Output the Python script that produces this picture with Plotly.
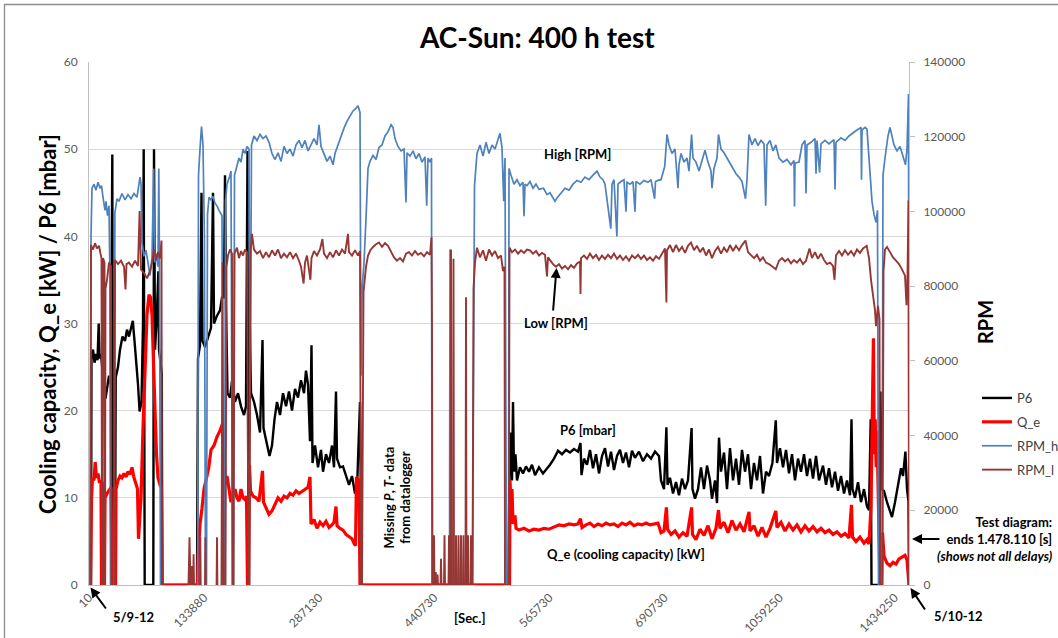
import plotly.graph_objects as go

# ---------------- data (x = sample index along the category axis) ----------------
tick_pos = [0, 115.1, 230.2, 345.3, 460.4, 575.5, 690.6, 805.7]
tick_labels = ["10", "133880", "287130", "440730", "565730", "690730", "1059250", "1434250"]

# P6 [mbar]
p6_pts = [
    (0, 0), (2, 0), (2.5, 26.5), (4, 27), (5.5, 25.5), (7, 26.5), (8.5, 25.8), (9.7, 30), (10.5, 26), (12, 26.5),
    (14, 24), (16.5, 21.4), (18, 22.5), (20, 24), (22, 23), (23.3, 49.4), (24, 0), (26, 0), (26.7, 23.8), (29, 25),
    (31, 27), (33.5, 28.5), (36, 28), (38, 29.3), (40, 28.5), (42, 29.5), (43.8, 30.3), (45.5, 28), (47, 26), (49, 23),
    (50.6, 19.9), (52.5, 21), (54, 30), (54.7, 50), (55.7, 0), (64.3, 0), (65, 50), (66, 27), (67.5, 30), (69.4, 36),
    (70, 27), (71.5, 25), (72.8, 24.2), (73.3, 0),
    (108, 0), (109, 26), (111, 27.5), (112.5, 45), (113.5, 28), (116, 27.3), (119, 28.5), (122, 29.5), (124, 45),
    (125, 30), (128, 30.9), (131, 31.5), (133, 33), (135, 33), (136, 47), (137, 32), (138.5, 22), (141, 21.5),
    (143, 23.4), (146, 21), (149, 22), (152, 20.5), (155, 19.5), (157, 20.5), (158.5, 49.8), (159.5, 0), (160.5, 31.7),
    (162, 22), (165, 21), (168, 19.5), (171, 17.5), (173.5, 28.1), (174.5, 18), (177, 16.5), (180.5, 14.8), (183, 16),
    (185.5, 19), (188, 21), (191, 19.5), (194, 22), (197, 20.5), (200, 22.2), (203, 20), (206, 22.5), (209, 21.5),
    (212, 23.5), (215, 22), (217, 24.6), (219, 23), (221, 16.5), (222.5, 27.5), (223.5, 14), (226, 16), (229, 13.5),
    (232, 15.5), (234, 13), (237, 15), (240, 14), (243, 16), (245, 13.5), (247, 22.2), (248, 14.5), (251, 13.5),
    (254, 13.6), (257, 12.5), (260, 11.5), (263, 12.5), (266, 10.5), (268, 11), (271, 21), (272, 9.6), (272.5, 0),
    (418, 0), (419.5, 0), (420.5, 14), (422, 17.5), (423, 12), (424, 21), (425, 13), (426.5, 15), (428, 12), (431, 13.5),
    (434, 12.8), (437, 13.6), (440, 13), (443, 13.8), (446, 12.6), (450, 13.5), (454, 12.8), (458, 13.3), (461, 13.8),
    (465, 14.5), (469, 15.4), (473, 15), (477, 15.5), (481, 15.2), (485, 15.6), (489, 15.3), (491.5, 16.3), (492.5, 12.6),
    (495, 14.5), (498, 13.8), (501, 15.5), (504, 13.4), (507, 15), (510, 12.8), (513, 14.8), (516, 15.7), (519, 13.6),
    (522, 15.3), (525, 13.2), (528, 14.8), (531, 15.5), (534, 14), (537, 15.2), (540, 13.5), (543, 15.4), (546, 14.6),
    (550, 15.3), (554, 14.2), (558, 15), (562, 14.5), (566, 15.3), (570, 14.8), (572, 12), (575, 11), (577.4, 18.1),
    (578.5, 11.5), (581, 12.3), (584, 10.5), (587, 11.8), (590, 10.3), (593, 12.2), (596, 11), (599, 12), (602.6, 18),
    (603.5, 11), (606, 9.9), (609, 11), (612, 13.5), (615, 11), (618, 13.7), (621, 12), (623, 9.9), (626, 12), (628, 9.4),
    (630, 16.9), (632, 13), (635, 15.2), (638, 11), (641, 15.7), (644, 12), (647, 14.5), (650, 11.5), (653, 15.5),
    (656, 13), (659, 15), (662, 11), (665, 14), (668, 12), (671, 14.8), (674, 10.5), (677, 13), (680, 12.5), (683.4, 14),
    (686.8, 18.9), (688, 14), (691, 15.7), (694, 13.5), (697, 15.5), (700, 12.8), (703, 15), (706, 12), (709, 14.5),
    (712, 13), (715, 15), (718, 12.5), (721, 14.5), (724, 12.2), (727, 14.8), (730, 12), (734, 13.7), (737, 11.5),
    (740, 13.4), (743, 11.2), (746, 13), (749, 10.8), (752, 12.5), (755, 10.5), (758, 12), (761, 10.3), (762.5, 19),
    (763.5, 11), (766, 10), (769, 11.8), (772, 9.5), (775, 11), (778, 9), (780, 8.6), (781.7, 19), (782.5, 0),
    (790.5, 0), (791.5, 22.2), (792.5, 11), (795, 10.8), (798, 9.5), (801, 8.5), (803, 7.8), (806, 9.5), (809, 11.5),
    (812, 13.4), (814, 12.5), (816.4, 15.3), (818, 11), (819.5, 9.6), (820, 0),
]

# Q_e [kW]
qe_pts = [
    (0, 0), (1.5, 0), (2.5, 10), (3.5, 12.3), (5, 12), (6.2, 14.1), (7.5, 12.3), (9, 12.8), (10.5, 11.7), (12, 12),
    (12.5, 0), (13.5, 0), (14, 11.5), (15, 11.8), (15.5, 0), (16, 10), (18, 10.5), (20, 10.8), (22, 11.2), (23, 0),
    (26.5, 0), (27, 11), (29, 12), (31, 12.5), (33, 12.3), (35, 12.8), (37, 12.4), (39, 13), (41, 12.7), (43, 13.5),
    (45, 12.3), (47, 11.6), (48.5, 11), (49.5, 5.3), (50.5, 8), (52, 10), (54, 18), (56, 26), (58, 31), (60, 33.3),
    (61.5, 33), (63, 31), (64.5, 26.5), (66, 20), (67.5, 15), (69, 12.3), (71, 11.5), (72.5, 11.2), (73.2, 0),
    (107.5, 0), (108.5, 0), (109.5, 4), (111, 7), (113, 8.8), (115, 11), (117, 12), (119.8, 13.5), (122, 15.5),
    (125, 16), (128, 17), (131, 17.7), (133.5, 18.5), (135, 14), (136.5, 11.5), (138, 12.5), (140, 11), (142, 9.5),
    (144, 10.5), (146, 11), (148, 10), (150, 9.6), (152, 11), (154, 10), (156, 9.8), (157.5, 10.2), (158.5, 0),
    (159.5, 0), (160.5, 13.8), (161.5, 10.8), (164, 10.2), (167, 10), (170, 9.6), (173.5, 13.1), (174.5, 9.5),
    (177, 8.8), (180, 8.1), (183, 8.5), (186, 9.3), (189, 10), (192, 9.6), (195, 10.2), (198, 10), (201, 10.5),
    (204, 10.3), (207, 10.8), (210, 10.5), (213, 10.7), (216, 11), (219, 11.2), (221, 12.4), (222, 7), (225, 7.5),
    (228, 6.5), (231, 7.2), (234, 6.8), (237, 7.3), (240, 6.6), (243, 6.9), (245, 7.2), (247, 9), (248, 6.8),
    (251, 6.5), (254, 6.3), (257, 5.8), (260, 5.5), (263, 5.3), (265, 4.8), (266.5, 4.5), (267.5, 12.4), (270, 12),
    (271, 0),
    (420.5, 0), (421, 12), (422, 9), (423, 11), (424, 7), (426, 8), (427, 6.5), (430, 6.3), (435, 6.5), (440, 6.2),
    (445, 6.4), (450, 6.3), (455, 6.5), (460, 6.4), (465, 6.7), (470, 6.9), (475, 6.8), (480, 7.0), (485, 6.9),
    (489, 7.0), (491.5, 7.6), (493, 6.6), (497, 6.9), (501, 7.1), (505, 6.7), (509, 7), (513, 6.8), (517, 7.1),
    (521, 6.9), (525, 7.0), (529, 6.7), (533, 7.1), (537, 6.9), (541, 7.2), (545, 6.8), (549, 7.0), (553, 6.9),
    (557, 7.1), (561, 6.9), (565, 7.0), (569, 7.1), (572, 6.0), (575, 6.2), (577.4, 8.9), (578.5, 6.4), (582, 5.8),
    (586, 6.2), (590, 5.5), (594, 6), (598, 5.6), (602.6, 8.9), (603.5, 5.8), (607, 5.2), (611, 6.4), (615, 5.7),
    (619, 6.8), (623, 5.3), (627, 6.5), (629.5, 8.6), (631, 6.5), (635, 7.2), (639, 6), (643, 7.4), (647, 6.3),
    (651, 7.0), (655, 6.1), (660, 8.4), (661, 6.2), (665, 6.8), (669, 5.6), (673, 6.6), (677, 5.5), (681, 6.5),
    (686.8, 8.5), (688, 6.6), (692, 7.2), (696, 6.2), (700, 7.0), (704, 6.3), (708, 6.9), (712, 6.1), (716, 6.8),
    (720, 6.2), (724, 6.7), (728, 6.1), (732, 6.5), (736, 6.0), (740, 6.3), (744, 5.8), (748, 6.1), (752, 5.6),
    (756, 5.9), (760, 5.4), (762.5, 9.2), (763.5, 5.5), (767, 5.0), (771, 5.5), (775, 4.8), (778, 5.2), (780, 4.7),
    (782, 9), (784.4, 28.3), (785.3, 15), (786.2, 19), (787.2, 13.5), (788, 17.7), (789, 12), (790, 8), (791, 0),
    (792.5, 0), (793.5, 6), (795, 3.3), (798, 2.5), (801, 2.2), (804, 2.6), (807, 2.4), (810, 3.0), (813, 3.2),
    (816, 3.4), (818, 2.9), (819.5, 0), (820, 0),
]

# RPM_h [RPM]  (None = no record)
rpm_h_pts = [
    (1, 0), (2, 93300), (3, 106200), (5, 107300), (7, 105700), (9, 107800), (11, 106200), (12.5, 106900), (14, 103800),
    (16, 100300), (17, 102700), (18.5, 98900), (20, 101500), (20.8, 84500), (21.5, 0), (25, 0), (25.9, 99600),
    (28, 103400), (30, 102700), (33, 104800), (36, 103100), (39, 104500), (42, 103400), (45, 104800), (48, 103800),
    (49.5, 106200), (51, 109200), (52, 107300), (53, 91700), (55, 88000), (57, 89600), (59, 86300), (61, 82800),
    (63, 87500), (64.7, 111500), (65.5, 86300), (67, 88700), (69, 85200), (69.8, 111500), (70.5, 84000), (71.5, 0),
    (72, None),
    (108.6, 0), (109.5, 109700), (111, 116700), (112.5, 122700), (114, 117800), (115.4, 93300), (116.5, 0), (117.5, 0),
    (118.5, 99200), (120, 103800), (122, 103100), (124, 104100), (126, 102200), (128, 101500), (130, 100300),
    (132, 99200), (133, 98900), (134, 0), (135.5, 0), (136.5, 102700), (138, 107300), (140.7, 109400), (142, 110800),
    (143.5, 0), (144.5, 0), (145.5, 109700), (148, 112000), (150, 114300), (152, 113200), (154, 116700), (156, 115500),
    (158, 117400), (160, 116700), (161, 40800), (162.5, 117800), (165, 120200), (168, 119000), (171, 120600),
    (174, 119500), (177, 120200), (180, 118500), (183, 115500), (186, 113900), (189, 115700), (192, 113400),
    (195, 117400), (198, 115500), (201, 116700), (204, 114800), (207, 117800), (210, 119000), (213, 117100),
    (216, 119000), (219, 116200), (222, 117800), (225, 119500), (228, 117800), (230, 123200), (232, 117400),
    (235, 115300), (238, 113400), (241, 114800), (244, 112500), (246, 115500), (249, 117800), (252, 120200),
    (255, 122300), (258, 124100), (261, 125500), (264, 126900), (267, 127600), (269, 128300), (271, 126500),
    (272, 56000), (273, 78900), (275, 86300), (277, 98000), (279, 111500), (281, 113400), (284, 115000), (287, 113900),
    (290, 117100), (293, 117800), (296, 120200), (299, 121300), (302, 123200), (304, 122500), (306, 119500),
    (309, 117400), (312, 116200), (315, 116700), (317, 102400), (318, 115700), (321, 114800), (324, 116200),
    (327, 114100), (330, 115500), (333, 113200), (336, 114600), (337.7, 101500), (339, 114300), (341, 113200),
    (342.5, 114300), (343, 0), (343.5, None),
    (360.5, 0), (361, 89800), (361.5, 0), (362, None),
    (383.5, 0), (384.5, 77000), (385.5, 106900), (388, 115500), (391, 117800), (394, 114800), (397, 118500),
    (400, 115500), (403, 117800), (406, 116700), (409, 119500), (411, 120900), (413, 117100), (414.7, 102700),
    (416, 114300), (417.5, 0), (419.5, 0), (420, 111500), (422, 109700), (425, 107300), (428, 108500), (431, 106900),
    (434, 107800), (435, 98700), (436, 107300), (438, 106900), (441, 108000), (444, 106200), (447, 107300),
    (450, 105900), (454.5, 106200), (458, 104500), (461, 105000), (464, 103800), (466, 102700), (468, 103600),
    (472, 105000), (476, 106200), (480, 105700), (484, 107300), (488, 108300), (492, 107800), (496, 109200),
    (500, 108500), (504, 109700), (508, 110800), (511, 109200), (514, 108500), (516, 107300), (521.8, 95400),
    (523, 107300), (525, 108500), (527.9, 93300), (529, 107300), (532, 108000), (535, 108500), (537, 99900),
    (538, 107800), (541, 107300), (544, 108000), (546, 99900), (547, 108000), (551, 107300), (555, 108300),
    (559, 107800), (562, 108500), (565.6, 103400), (566.5, 108000), (569, 108300), (572, 108500), (575.7, 112000),
    (578, 120600), (580, 117800), (583, 115500), (586, 116700), (589, 106200), (590, 112500), (592, 115500),
    (595, 113200), (598, 114300), (600, 110800), (602.6, 120600), (604, 114300), (607, 113200), (610, 110800),
    (613, 113400), (616, 116400), (619, 113200), (622, 110800), (623, 106200), (625, 111500), (628, 114300),
    (629.5, 120600), (632, 116700), (635, 115700), (638, 114300), (641, 112900), (644, 111800), (647, 110100),
    (650, 109200), (653, 108000), (656.5, 103400), (658, 108500), (660, 120600), (663, 117800), (666, 119500),
    (669, 117600), (672, 119000), (675, 118100), (676.7, 101500), (678, 117800), (681, 119000), (684, 116200),
    (686.8, 117800), (690, 114300), (694, 113200), (698, 113900), (702, 112500), (705, 113600), (705.5, 101300),
    (706, 112900), (710, 113200), (713, 117800), (716, 119000), (717, 104800), (718, 117800), (722, 118500),
    (726, 119500), (727, 110100), (728, 119000), (730.6, 110400), (732, 118100), (736, 119000), (740, 118100),
    (745, 119200), (746, 105900), (747, 118500), (752, 119700), (756, 119000), (760, 120200), (764, 121100),
    (768, 121800), (772, 122500), (772.5, 108500), (773, 121800), (776, 122500), (778, 122000), (781, 109700),
    (783, 102700), (785, 99200), (787, 97100), (788.5, 100300), (789.5, 0), (793, 0), (794, 109700), (796, 114300),
    (799, 120200), (801, 122500), (803, 120200), (805, 117800), (808, 116200), (811, 117400), (814, 114800),
    (816.5, 112500), (818, 116700), (819.5, 131400), (820, 0),
]

# RPM_l [RPM]  (None = no record)
rpm_l_pts = [
    (1.5, 0), (2, 91000), (4, 89800), (6, 91500), (8, 90100), (10, 90800), (11.5, 88700), (12.5, 87500), (13, 0),
    (13.5, 0), (14, 87500), (15.5, 86300), (16, 0), (16.5, 79300), (18, 81700), (20, 86300), (22, 85400), (22.5, 0),
    (25.5, 0), (26, 87000), (29, 85900), (32, 86800), (35, 85200), (36.5, 79100), (37.5, 85900), (40, 86300),
    (43, 85200), (46, 86800), (49, 85400), (50.6, 100100), (52, 84500), (55, 83500), (58, 82100), (61, 84000),
    (63, 86300), (65, 89800), (67, 87000), (69, 89100), (71, 87500), (72.5, 92200), (73, 0), (73.5, None),
    (99.5, 0), (100.5, 12800), (101.5, 0), (102.5, 0), (103, 5100), (103.5, 0), (104.2, 0), (104.6, 8200), (105, 0),
    (105.5, None), (111, 0), (111.3, 12800), (111.7, 0), (112, None), (116, 0), (116.4, 12800), (116.8, 0), (117, None),
    (127.6, 0), (128, 12800), (128.4, 0), (128.8, None), (132.5, 0), (133.5, 86300), (134.5, 0), (136.5, 0),
    (137.5, 85200), (139, 88200), (141, 89800), (143, 88700), (143.5, 0), (144.5, 0), (145.5, 88700), (148, 90300),
    (150, 87500), (152, 89400), (154, 88200), (156, 89800), (158, 89100), (159.5, 0), (160.5, 0), (161.5, 88700),
    (163, 94000), (165, 89800), (168, 88700), (171, 89400), (174, 87500), (177, 89100), (180, 87700), (183, 89600),
    (186, 88200), (189, 89800), (192, 87500), (195, 88700), (198, 87700), (201, 89100), (204, 87500), (207, 88700),
    (210, 86800), (212, 85200), (214.6, 80700), (216, 86300), (218, 88200), (221.4, 81700), (222.5, 87500),
    (225, 89400), (228, 88200), (231, 89800), (233.4, 92600), (235, 88700), (238, 87500), (241, 89100), (244, 87700),
    (247, 89600), (250, 88200), (253, 89800), (256, 88700), (259, 94000), (260, 89100), (263, 88200), (266, 89600),
    (269, 88200), (271, 89400), (272, 0), (273, 0), (274.5, 78400), (277, 85200), (279, 88200), (281.4, 89600),
    (284, 90500), (287, 91200), (290, 91700), (293, 90500), (296, 91500), (299, 90800), (302, 89100), (305, 87700),
    (308, 86800), (311, 87500), (314, 86600), (317, 88700), (320, 89100), (323, 88200), (326, 89400), (329, 88400),
    (332, 88900), (335, 88000), (338, 89100), (341, 88400), (342.5, 93100), (343, 69300), (343.5, 0), (344, None),
    (344.5, 0), (345, 13300), (345.5, 0), (346, None), (346.3, 0), (346.8, 3500), (347.3, 0), (347.6, None),
    (348.2, 0), (348.6, 2800), (349, 0), (349.3, None), (351.5, 0), (352, 7000), (352.5, 0), (353, None),
    (355, 0), (355.5, 13300), (356, 0), (356.5, None), (359.5, 0), (360, 13300), (360.5, 0), (361, None),
    (361.5, 0), (362, 89800), (362.5, 0), (363, None), (364, 0), (364.5, 87300), (365, 0), (365.5, None),
    (366.5, 0), (367, 13300), (367.5, 0), (368, None), (369, 0), (369.5, 13300), (370, 0), (370.5, None),
    (371.5, 0), (372, 13300), (372.5, 0), (373, None), (374, 0), (374.5, 13300), (375, 0), (375.5, None),
    (376.5, 0), (377, 77000), (377.5, 0), (378, None), (378.5, 0), (379, 13300), (379.5, 0), (380, None),
    (381.5, 0), (382, 13300), (382.5, 0), (383, None),
    (383.5, 0), (384.5, 79300), (386, 86300), (388, 90300), (391, 87700), (394, 89600), (397, 86800), (400, 89800),
    (403, 88200), (406, 89400), (409, 87500), (412, 88200), (414, 84000), (415.5, 85200), (416, 0), (419.8, 0),
    (420.5, 90300), (423, 89100), (426, 89800), (429, 88700), (432, 89600), (435, 88900), (438, 89800), (441, 89600),
    (444, 88700), (447, 89400), (450, 88200), (453, 88900), (456, 88400), (458, 82600), (459, 87700), (461, 87000),
    (464, 85900), (467, 85200), (470, 85900), (473, 84700), (476, 85400), (479, 84500), (482, 85600), (485, 84900),
    (488, 86100), (491, 86600), (491.5, 77900), (492, 87500), (495, 88200), (498, 87300), (501, 88700), (504, 87500),
    (507, 88400), (510, 87000), (513, 88200), (516, 87300), (519, 88400), (522, 87500), (525, 88700), (528, 87300),
    (531, 88200), (534, 87000), (537, 88000), (540, 86800), (543, 88200), (546, 87500), (549, 88400), (552, 87300),
    (555, 88200), (558, 87000), (561, 87700), (564, 86800), (567, 88000), (570, 87300), (573, 88700), (576, 90100),
    (577.4, 75600), (578, 89600), (581, 91000), (584, 89100), (587, 91000), (590, 89400), (593, 90500), (596, 88900),
    (599, 90800), (602, 91700), (605, 89600), (608, 90800), (611, 89100), (614, 90300), (617, 88200), (620, 89800),
    (623, 87500), (626, 89400), (629, 90500), (632, 88700), (635, 90300), (638, 89100), (641, 91000), (644, 89400),
    (647, 90800), (650, 89600), (653, 91000), (656.5, 92200), (659, 89100), (662, 88200), (665, 87500), (668, 88400),
    (671, 86800), (674, 87700), (677, 86300), (680, 85900), (683, 85200), (686.8, 84500), (690, 86800), (693, 87500),
    (696, 86600), (699, 87300), (702, 86100), (705, 87000), (708, 86300), (711, 87300), (714, 85900), (717, 86800),
    (720.5, 90100), (723, 87500), (726, 89100), (729, 87300), (732, 88700), (735, 87000), (738, 85900), (741, 86300),
    (744, 85400), (745.5, 81700), (747, 88200), (750, 89400), (753, 88200), (756, 89600), (759, 88400), (762, 89400),
    (765, 88200), (768, 89800), (771, 88900), (774, 90100), (777.7, 90800), (780, 87500), (782, 81700), (784, 78200),
    (786, 73500), (787, 69300), (789, 74700), (790.5, 71200), (791, 0), (793.5, 0), (794.5, 84000), (796, 89800),
    (798, 90500), (801, 89100), (804, 87700), (807, 86800), (810, 85900), (813, 84500), (816, 82800), (817.5, 74900),
    (818.5, 83100), (819.5, 102900), (820, 0),
]

# ---------------- layout helpers ----------------
W, H = 1058, 638
ML, MR, MT, MB = 89, 149, 62, 53
PW, PH = W - ML - MR, H - MT - MB
FONT = "Lato, 'Open Sans', sans-serif"


def fx(px):
    return (px - ML) / PW


def fy(py):
    return (H - MB - py) / PH


def xs(pts):
    return [p[0] for p in pts]


def ys(pts):
    return [p[1] for p in pts]


fig = go.Figure()
fig.add_trace(go.Scatter(x=xs(p6_pts), y=ys(p6_pts), mode="lines", name="P6",
                         line=dict(color="#000000", width=2.4), legendgroup="a"))
fig.add_trace(go.Scatter(x=xs(qe_pts), y=ys(qe_pts), mode="lines", name="Q_e",
                         line=dict(color="#ff0000", width=3.2), legendgroup="b"))
fig.add_trace(go.Scatter(x=xs(rpm_h_pts), y=ys(rpm_h_pts), mode="lines", name="RPM_h", yaxis="y2",
                         line=dict(color="#4f81bd", width=1.7), legendgroup="c"))
fig.add_trace(go.Scatter(x=xs(rpm_l_pts), y=ys(rpm_l_pts), mode="lines", name="RPM_l", yaxis="y2",
                         line=dict(color="#953735", width=1.9), legendgroup="d"))

ann = []


def text(px, py, s, size=13, bold=True, xanchor="center", align="center", angle=0, bg=None, color="#000000"):
    d = dict(x=fx(px), y=fy(py), xref="paper", yref="paper", text=(f"<b>{s}</b>" if bold else s),
             showarrow=False, xanchor=xanchor, yanchor="middle", align=align, textangle=angle,
             font=dict(family=FONT, size=size, color=color))
    if bg:
        d["bgcolor"] = bg
    ann.append(d)


def arrow(hx, hy, tx, ty):
    ann.append(dict(x=fx(hx), y=fy(hy), xref="paper", yref="paper", text="", showarrow=True,
                    ax=tx - hx, ay=ty - hy, arrowhead=2, arrowsize=1, arrowwidth=2,
                    arrowcolor="#000000", standoff=0, startstandoff=0))


text(536.5, 37, "AC-Sun: 400 h test", size=28)
text(47, 324, "Cooling capacity, Q_e [kW] / P6 [mbar]", size=22, angle=-90)
text(985, 322, "RPM", size=20, angle=-90)
text(577, 154, "High [RPM]", bg="#ffffff")
text(556, 323, "Low [RPM]", bg="#ffffff")
arrow(556.5, 268, 553, 312)
text(588, 430, "P6 [mbar]")
text(626, 554, "Q_e (cooling capacity) [kW]")
text(396.5, 498, "Missing <i>P</i>, <i>T</i>- data<br>from datalogger", angle=-90, bg="#ffffff")
text(470, 618, "[Sec.]")
text(133, 617, "5/9-12")
arrow(90.5, 587.5, 107, 610)
text(958, 616, "5/10-12")
arrow(910.5, 588, 926, 611)
text(1055, 539, "Test diagram:<br>ends 1.478.110 [s]<br><i>(shows not all delays)</i>",
     xanchor="right", align="right")
arrow(912, 539, 941, 539)

fig.update_layout(
    width=W, height=H,
    margin=dict(l=ML, r=MR, t=MT, b=MB, autoexpand=False),
    paper_bgcolor="#ffffff", plot_bgcolor="#ffffff",
    font=dict(family=FONT, size=12, color="#595959"),
    showlegend=True,
    legend=dict(x=fx(977), y=fy(383), xref="paper", yref="paper", xanchor="left", yanchor="top",
                font=dict(family=FONT, size=13, color="#404040"), itemwidth=30,
                tracegroupgap=4, bgcolor="rgba(0,0,0,0)"),
    xaxis=dict(range=[0, 820], tickmode="array", tickvals=tick_pos, ticktext=tick_labels,
               tickangle=-45, showgrid=False, zeroline=False, showline=True, linecolor="#bfbfbf",
               ticks="", automargin=False, tickfont=dict(family=FONT, size=12, color="#595959")),
    yaxis=dict(range=[0, 60], dtick=10, showgrid=True, gridcolor="#d9d9d9", gridwidth=1,
               zeroline=False, showline=True, linecolor="#bfbfbf", ticks="", automargin=False,
               ticklabelstandoff=8, tickfont=dict(family=FONT, size=12, color="#595959")),
    yaxis2=dict(range=[0, 140000], dtick=20000, tickformat="d", overlaying="y", side="right", showgrid=False,
                zeroline=False, showline=True, linecolor="#bfbfbf", ticks="outside", ticklen=5,
                tickcolor="#bfbfbf", ticklabelstandoff=6, automargin=False,
                tickfont=dict(family=FONT, size=12, color="#595959")),
    annotations=ann,
    shapes=[dict(type="rect", xref="paper", yref="paper", x0=fx(4.5), x1=fx(1200), y0=fy(800), y1=fy(4.5),
                 line=dict(color="#8c8c8c", width=1.3), fillcolor="rgba(0,0,0,0)")],
)

fig.write_html(
    "out.html",
    config={"displayModeBar": False},
    post_script="document.body.style.margin='0';document.body.style.overflow='hidden';",
)
